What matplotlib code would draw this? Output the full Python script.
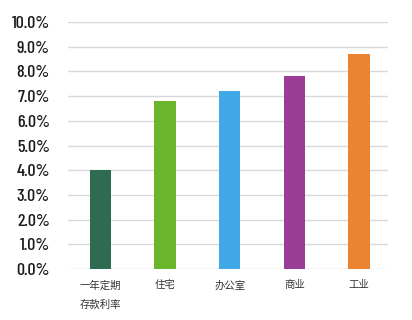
import matplotlib
matplotlib.use("Agg")
import matplotlib.pyplot as plt

categories = ["一年定期\n存款利率", "住宅", "办公室", "商业", "工业"]
rates = [4.0, 6.8, 7.2, 7.8, 8.7]
colors = ["#2f6b50", "#6bb52c", "#42a7e6", "#9b3c97", "#ec8331"]
yticks = [0, 1, 2, 3, 4, 5, 6, 7, 8, 9, 10]

fig = plt.figure(figsize=(4.12, 3.2), dpi=100)
ax = fig.add_axes([0.165, 0.159, 0.777, 0.772])

x = range(len(categories))
ax.bar(x, rates, width=0.33, color=colors, zorder=3)

ax.set_xlim(-0.5, 4.45)
ax.set_ylim(0, 10)
ax.set_yticks(yticks)
ax.set_yticklabels(["%.1f%%" % v for v in yticks], fontsize=13, color="#1a1a1a",
                   weight="medium",
                   family=["Barlow Condensed", "Barlow Semi Condensed", "DejaVu Sans"])
ax.set_xticks(list(x))
ax.set_xticklabels(categories, family=["Noto Sans CJK SC", "DejaVu Sans"],
                   fontsize=7.5, color="#333333", linespacing=2.2, va="top")
ax.grid(axis="y", color="#d9d9d9", linewidth=1.0, zorder=0)
for s in ax.spines.values():
    s.set_visible(False)
ax.tick_params(axis="both", length=0)
ax.tick_params(axis="x", pad=8)
ax.tick_params(axis="y", pad=13)

fig.savefig("out.png", dpi=100)
